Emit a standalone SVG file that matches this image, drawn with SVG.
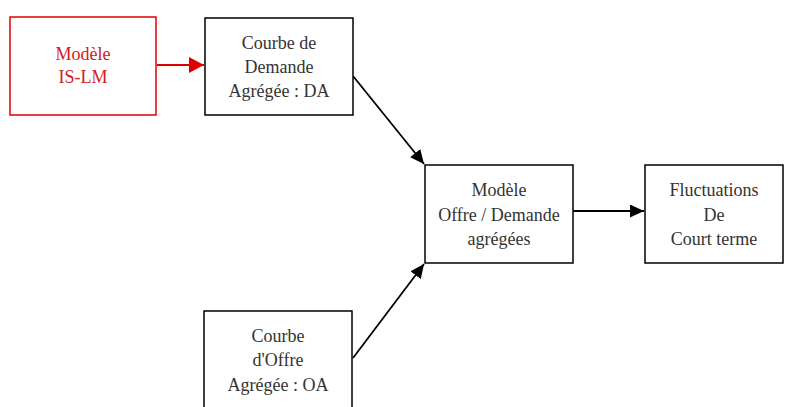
<svg xmlns="http://www.w3.org/2000/svg" width="785" height="407" viewBox="0 0 785 407">
<style>
.box{fill:#fff;stroke:#000;stroke-width:1.5}
.red{fill:#fff;stroke:#e00000;stroke-width:1.5}
text{font-family:"Liberation Serif","Times New Roman",serif;font-size:18px;text-anchor:middle;fill:#333}
.rt{fill:#d02020}
.c{stroke:#000;stroke-width:1.8;fill:none}
</style>
<defs>
<marker id="ah" viewBox="0 0 10 10" refX="10" refY="5" markerWidth="14" markerHeight="13" markerUnits="userSpaceOnUse" orient="auto" preserveAspectRatio="none"><path d="M0,0 L10,5 L0,10 z" fill="#000"/></marker>
<marker id="ahr" viewBox="0 0 10 10" refX="10" refY="5" markerWidth="15" markerHeight="16" markerUnits="userSpaceOnUse" orient="auto" preserveAspectRatio="none"><path d="M0,0 L10,5 L0,10 z" fill="#e00000"/></marker>
</defs>
<rect width="785" height="407" fill="#fff"/>
<g id="connectors">
<line x1="157" y1="65" x2="204" y2="65" stroke="#e00000" stroke-width="1.8" marker-end="url(#ahr)"/>
<line class="c" x1="353" y1="76" x2="424" y2="164" marker-end="url(#ah)"/>
<line class="c" x1="353" y1="358" x2="424" y2="264" marker-end="url(#ah)"/>
<line class="c" x1="573" y1="211" x2="644" y2="211" marker-end="url(#ah)"/>
</g>
<g id="islm">
<rect class="red" x="10" y="17" width="146" height="98"/>
<text class="rt" x="83" y="60">Modèle</text>
<text class="rt" x="83" y="83">IS-LM</text>
</g>
<g id="da">
<rect class="box" x="205" y="18" width="148" height="97"/>
<text x="279" y="49">Courbe de</text>
<text x="279" y="73">Demande</text>
<text x="279" y="97">Agrégée : DA</text>
</g>
<g id="modele">
<rect class="box" x="425" y="165" width="148" height="98"/>
<text x="499" y="196">Modèle</text>
<text x="499" y="221">Offre / Demande</text>
<text x="499" y="245">agrégées</text>
</g>
<g id="fluct">
<rect class="box" x="645" y="165" width="138" height="98"/>
<text x="714" y="196">Fluctuations</text>
<text x="714" y="221">De</text>
<text x="714" y="245">Court terme</text>
</g>
<g id="oa">
<rect class="box" x="204" y="311" width="148" height="110"/>
<text x="278" y="342">Courbe</text>
<text x="278" y="366">d'Offre</text>
<text x="278" y="391">Agrégée : OA</text>
</g>
</svg>
